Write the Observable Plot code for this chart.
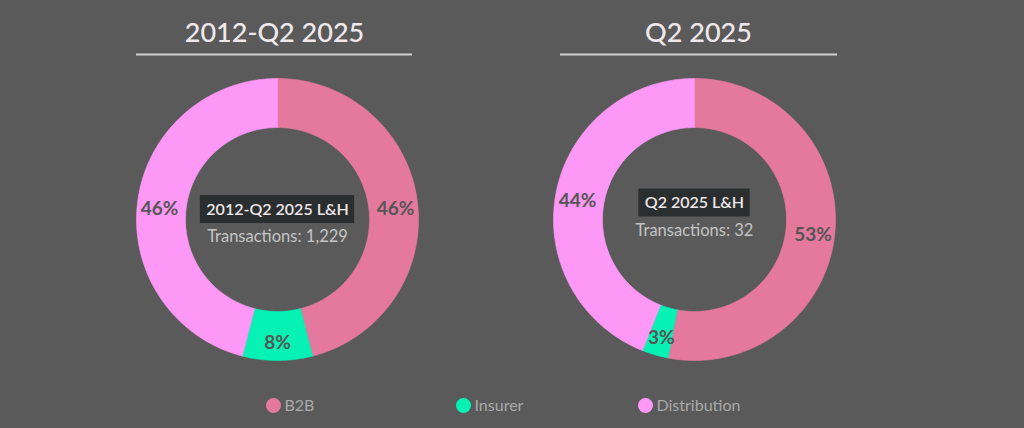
<!DOCTYPE html>
<html>
<head>
<meta charset="utf-8">
<script src="https://cdn.jsdelivr.net/npm/d3@7"></script>
<script src="https://cdn.jsdelivr.net/npm/@observablehq/plot@0.6"></script>
<style>
  html, body { margin: 0; padding: 0; background: #5a5a5a; }
  #chart svg { display: block; }
</style>
</head>
<body>
<div id="chart"></div>
<script>
// ---- data ----
const categories = ["B2B", "Insurer", "Distribution"];
const chartTitles = ["2012-Q2 2025", "Q2 2025"];
const centerTitles = ["2012-Q2 2025 L&H", "Q2 2025 L&H"];
const transactionLabels = ["Transactions: 1,229", "Transactions: 32"];
const shares2012toQ2 = [46, 8, 46];
const sharesQ2 = [53, 3, 44];

// ---- styles / layout ----
const colors = ["#e5799d", "#05f2b4", "#fd98f6"];
const W = 1024, H = 428;
const centersX = [277, 694];
const centerY = 219;
const rOuter = 141, rInner = 92, rLabel = 119;
const boxDy = [-10, -16.5];
const transDy = [17, 11];
const FONT = "Lato, 'Noto Sans', sans-serif";

const allShares = [shares2012toQ2, sharesQ2];

function pt(cx, r, a) { return {x: cx + r * Math.sin(a), y: centerY - r * Math.cos(a)}; }

// slices
const slices = [];
allShares.forEach((shares, ci) => {
  const total = d3.sum(shares);
  let acc = 0;
  shares.forEach((v, i) => {
    const a0 = acc / total * 2 * Math.PI;
    acc += v;
    const a1 = acc / total * 2 * Math.PI;
    slices.push({chart: ci, cat: categories[i], color: colors[i], value: v, a0, a1, cx: centersX[ci]});
  });
});

function slicePolygon(s) {
  const n = Math.max(4, Math.ceil((s.a1 - s.a0) / (Math.PI / 180)));
  const pts = [];
  for (let k = 0; k <= n; k++) pts.push(pt(s.cx, rOuter, s.a0 + (s.a1 - s.a0) * k / n));
  for (let k = n; k >= 0; k--) pts.push(pt(s.cx, rInner, s.a0 + (s.a1 - s.a0) * k / n));
  pts.push(pts[0]);
  return pts;
}

const labelData = slices.map(s => ({...pt(s.cx, rLabel, (s.a0 + s.a1) / 2), text: s.value + "%"}));

// text measuring for label boxes
const ctx = document.createElement("canvas").getContext("2d");
ctx.font = `600 16px ${FONT}`;
const boxes = centerTitles.map((t, ci) => {
  const w = ctx.measureText(t).width + 12;
  const cy = centerY + boxDy[ci];
  return {x1: centersX[ci] - w / 2, x2: centersX[ci] + w / 2, y1: cy - 14, y2: cy + 14, cx: centersX[ci], cy, t};
});

const titleData = chartTitles.map((t, ci) => ({x: centersX[ci] + (ci ? 4 : -3), y: 33, t}));
const ruleData = chartTitles.map((t, ci) => ({x1: centersX[ci] - (ci ? 134 : 141), x2: centersX[ci] + (ci ? 143 : 135), y: 54}));
const transData = transactionLabels.map((t, ci) => ({x: centersX[ci], y: centerY + transDy[ci], t}));
const legendData = categories.map((c, i) => ({x: [273, 463, 645][i], y: 405, c, color: colors[i]}));

const marks = [];
slices.forEach(s => {
  marks.push(Plot.line(slicePolygon(s), {x: "x", y: "y", fill: s.color, stroke: s.color, strokeWidth: 0.6, curve: "linear"}));
});
marks.push(
  Plot.text(labelData, {x: "x", y: "y", dy: 4, text: "text", fill: "#565656", fontSize: 19, fontWeight: "bold", fontFamily: FONT}),
  Plot.rect(boxes, {x1: "x1", x2: "x2", y1: "y1", y2: "y2", fill: "#2b2e2e"}),
  Plot.text(boxes, {x: "cx", y: "cy", text: "t", fill: "#ede6ea", fontSize: 16, fontWeight: 600, fontFamily: FONT}),
  Plot.text(transData, {x: "x", y: "y", text: "t", fill: "#c4c4c4", fontSize: 16.5, fontFamily: FONT}),
  Plot.text(titleData, {x: "x", y: "y", text: "t", fill: "#efe9ec", fontSize: 27, fontWeight: 500, fontFamily: FONT}),
  Plot.ruleY(ruleData, {x1: "x1", x2: "x2", y: "y", stroke: "#d0d0d0", strokeWidth: 2}),
  Plot.dot(legendData, {x: "x", y: "y", r: 7.5, fill: "color"}),
  Plot.text(legendData, {x: "x", y: "y", dx: 11, text: "c", textAnchor: "start", fill: "#a9a9a9", fontSize: 16, fontFamily: FONT})
);

const plot = Plot.plot({
  width: W, height: H,
  margin: 0,
  style: {background: "#5a5a5a", overflow: "visible"},
  x: {domain: [0, W], range: [0, W], axis: null},
  y: {domain: [0, H], range: [0, H], axis: null},
  color: {type: "identity"},
  marks
});
document.getElementById("chart").appendChild(plot);
</script>
</body>
</html>
